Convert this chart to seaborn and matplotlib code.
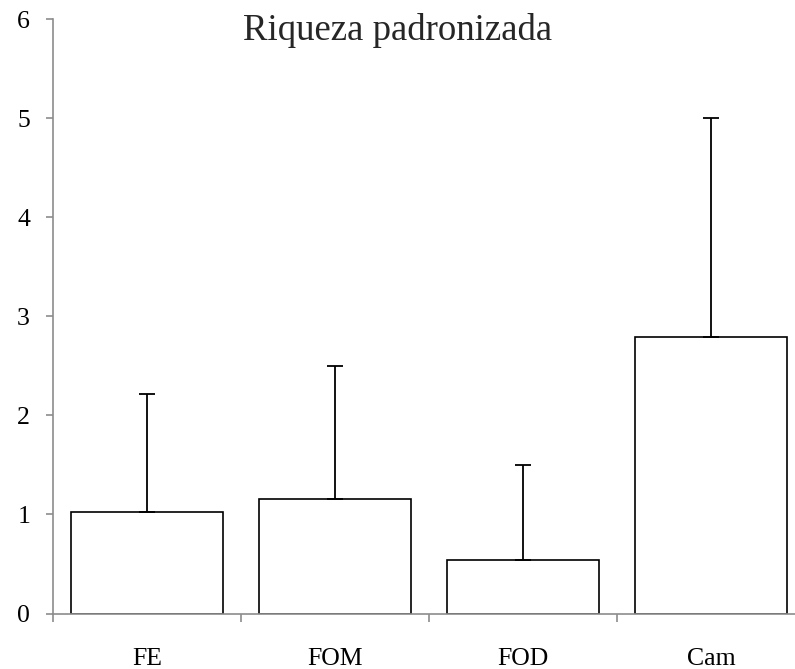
import matplotlib
matplotlib.use("Agg")
import matplotlib.pyplot as plt
import seaborn as sns
import pandas as pd
import numpy as np

# Standardised richness per habitat, with upper standard deviation
categories = ["FE", "FOM", "FOD", "Cam"]
means = [1.02, 1.16, 0.54, 2.79]
upper_err = [1.20, 1.34, 0.96, 2.21]

sns.set_theme(style="white")
plt.rcParams["font.family"] = ["Liberation Serif", "DejaVu Serif"]

df = pd.DataFrame({"habitat": categories, "riqueza": means})

fig = plt.figure(figsize=(7.95, 6.69), dpi=100)
ax = fig.add_axes([53 / 795, 1 - 613.5 / 669, (805 - 53) / 795, (613.5 - 19) / 669])

sns.barplot(data=df, x="habitat", y="riqueza", order=categories,
            color="white", edgecolor="black", linewidth=1.2,
            width=0.81, errorbar=None, ax=ax)

x = np.arange(len(categories))
ax.errorbar(x, means, yerr=[np.zeros(len(means)), upper_err], fmt="none",
            ecolor="black", elinewidth=1.3, capsize=6, capthick=1.3, zorder=3)

ax.set_xlim(-0.5, 3.5)
ax.set_ylim(0, 6)
ax.set_yticks(range(0, 7))
ax.set_xlabel("")
ax.set_ylabel("")

gray = "#8c8c8c"
for side in ["top", "right"]:
    ax.spines[side].set_visible(False)
for side in ["left", "bottom"]:
    ax.spines[side].set_color(gray)
    ax.spines[side].set_linewidth(1.2)

# category separators as ticks below the axis
ax.set_xticks(x)
ax.set_xticks(np.arange(-0.5, 3.6, 1.0), minor=True)
ax.tick_params(axis="x", which="major", length=0, pad=25, labelsize=18.5, colors="black")
ax.tick_params(axis="x", which="minor", length=6, width=1.2, color=gray, direction="out", bottom=True)
ax.tick_params(axis="y", which="major", length=5, width=1.2, color=gray, direction="out",
               left=True, pad=11.5, labelsize=18.5, labelcolor="black")

fig.text(0.5, 1 - 30 / 669, "Riqueza padronizada", ha="center", va="center", fontsize=26.5)

fig.savefig("out.png", dpi=100)
